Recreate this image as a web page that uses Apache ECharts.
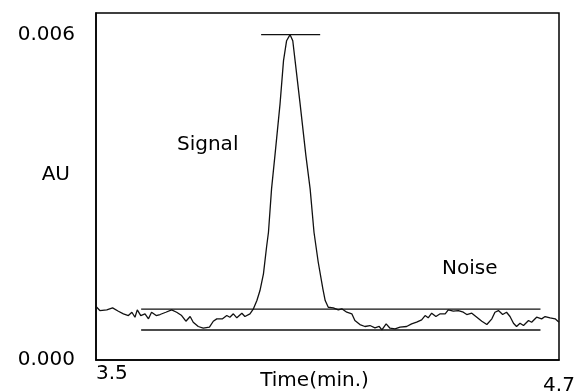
<!DOCTYPE html>
<html>
<head>
<meta charset="utf-8">
<script src="https://cdn.jsdelivr.net/npm/echarts@6/dist/echarts.min.js"></script>
<style>
html,body{margin:0;padding:0;background:#fff;}
#chart{width:580px;height:391px;}
</style>
</head>
<body>
<div id="chart"></div>
<script>
// Time axis (min) of the chromatogram trace
var timeMin = [3.500,3.510,3.528,3.543,3.558,3.571,3.584,3.593,3.601,3.607,
  3.616,3.627,3.636,3.644,3.656,3.666,3.681,3.696,3.709,3.722,
  3.733,3.744,3.752,3.765,3.778,3.794,3.804,3.813,3.828,3.839,
  3.847,3.856,3.865,3.878,3.886,3.899,3.908,3.917,3.925,3.934,
  3.942,3.947,3.955,3.964,3.977,3.986,3.994,4.003,4.010,4.016,
  4.029,4.044,4.055,4.065,4.076,4.088,4.094,4.102,4.115,4.128,
  4.137,4.150,4.163,4.171,4.184,4.197,4.210,4.223,4.234,4.241,
  4.252,4.262,4.275,4.288,4.305,4.318,4.331,4.344,4.353,4.361,
  4.370,4.381,4.392,4.405,4.413,4.426,4.439,4.452,4.461,4.474,
  4.487,4.500,4.513,4.526,4.534,4.543,4.554,4.564,4.573,4.582,
  4.590,4.599,4.608,4.621,4.629,4.642,4.655,4.664,4.677,4.690,4.700];
// Absorbance (AU)
var absorbanceAU = [0.000986,0.000912,0.000925,0.000962,0.000900,0.000852,0.000820,0.000881,0.000789,0.000925,
  0.000820,0.000852,0.000759,0.000881,0.000820,0.000839,0.000881,0.000925,0.000881,0.000820,
  0.000715,0.000802,0.000697,0.000618,0.000586,0.000605,0.000715,0.000759,0.000759,0.000820,
  0.000789,0.000852,0.000778,0.000863,0.000802,0.000852,0.000944,0.001097,0.001281,0.001589,
  0.002079,0.002356,0.003156,0.003788,0.004723,0.005521,0.005889,0.006000,0.005889,0.005521,
  0.004723,0.003770,0.003156,0.002356,0.001803,0.001312,0.001097,0.000973,0.000962,0.000925,
  0.000944,0.000881,0.000852,0.000728,0.000654,0.000618,0.000636,0.000594,0.000618,0.000557,
  0.000667,0.000586,0.000575,0.000605,0.000618,0.000667,0.000697,0.000741,0.000820,0.000778,
  0.000863,0.000802,0.000852,0.000852,0.000925,0.000900,0.000912,0.000881,0.000839,0.000863,
  0.000789,0.000715,0.000654,0.000759,0.000881,0.000912,0.000839,0.000881,0.000802,0.000678,
  0.000618,0.000678,0.000636,0.000728,0.000697,0.000789,0.000759,0.000802,0.000778,0.000759,0.000697];

// Reference lines
var peakLineTime = [3.928, 4.081];
var peakLevel = 0.006;
var noiseLineTime = [3.617, 4.652];
var noiseUpperLevel = 0.000940;
var noiseLowerLevel = 0.000553;

// Tick labels
var xTickValues = [3.5, 4.7];
var xTickLabels = ['3.5', '4.7'];
var yTickValues = [0, 0.006];
var yTickLabels = ['0.000', '0.006'];

var FONT = 'DejaVu Sans';
var INK = '#111';

var trace = timeMin.map(function (t, i) { return [t, absorbanceAU[i]]; });
function hline(ts, level) { return [[ts[0], level], [ts[1], level]]; }

var chart = echarts.init(document.getElementById('chart'), null, {renderer: 'canvas'});
chart.setOption({
  animation: false,
  backgroundColor: '#fff',
  grid: {left: 96, right: 21, top: 13, bottom: 31, show: true, borderColor: '#000', borderWidth: 1.5,
         containLabel: false, outerBoundsMode: 'none'},
  xAxis: {
    type: 'value', min: 3.5, max: 4.7,
    name: 'Time(min.)', nameLocation: 'middle', nameGap: 11, nameMoveOverlap: false,
    nameTextStyle: {fontFamily: FONT, fontSize: 20, color: '#000', padding: [0, 26, 0, 0]},
    axisLine: {show: true, onZero: false, lineStyle: {color: '#000', width: 1.5}},
    axisTick: {show: false},
    splitLine: {show: false},
    axisLabel: {
      customValues: xTickValues,
      margin: 4,
      alignMinLabel: 'left',
      hideOverlap: false,
      color: '#000', fontFamily: FONT, fontSize: 20,
      formatter: function (v) {
        var i = xTickValues.findIndex(function (t) { return Math.abs(t - v) < 1e-9; });
        var s = i >= 0 ? xTickLabels[i] : '';
        return i === xTickValues.length - 1 ? '{b|' + s + '}' : '{a|' + s + '}';
      },
      rich: {
        a: {fontFamily: FONT, fontSize: 20, color: '#000'},
        b: {fontFamily: FONT, fontSize: 20, color: '#000', padding: [12, 0, 0, 0]}
      }
    }
  },
  yAxis: {
    type: 'value', min: 0, max: 0.0064,
    name: 'AU', nameLocation: 'middle', nameRotate: 0, nameGap: 26, nameMoveOverlap: false,
    nameTextStyle: {fontFamily: FONT, fontSize: 20, color: '#000', verticalAlign: 'bottom', padding: [0, 0, 2, 0]},
    axisLine: {show: true, lineStyle: {color: '#000', width: 1.5}},
    axisTick: {show: false},
    splitLine: {show: false},
    axisLabel: {
      customValues: yTickValues,
      margin: 21,
      color: '#000', fontFamily: FONT, fontSize: 20,
      formatter: function (v) {
        var i = yTickValues.findIndex(function (t) { return Math.abs(t - v) < 1e-9; });
        return i >= 0 ? yTickLabels[i] : '';
      }
    }
  },
  graphic: [
    {type: 'text', left: 177, top: 135, style: {text: 'Signal', fontFamily: FONT, fontSize: 20, fill: '#000'}},
    {type: 'text', left: 442, top: 259, style: {text: 'Noise', fontFamily: FONT, fontSize: 20, fill: '#000'}}
  ],
  series: [
    {type: 'line', data: trace, showSymbol: false, silent: true, lineStyle: {color: INK, width: 1.3}},
    {type: 'line', data: hline(peakLineTime, peakLevel), showSymbol: false, silent: true, lineStyle: {color: INK, width: 1.3}},
    {type: 'line', data: hline(noiseLineTime, noiseUpperLevel), showSymbol: false, silent: true, lineStyle: {color: INK, width: 1.3}},
    {type: 'line', data: hline(noiseLineTime, noiseLowerLevel), showSymbol: false, silent: true, lineStyle: {color: INK, width: 1.3}}
  ]
});
</script>
</body>
</html>
